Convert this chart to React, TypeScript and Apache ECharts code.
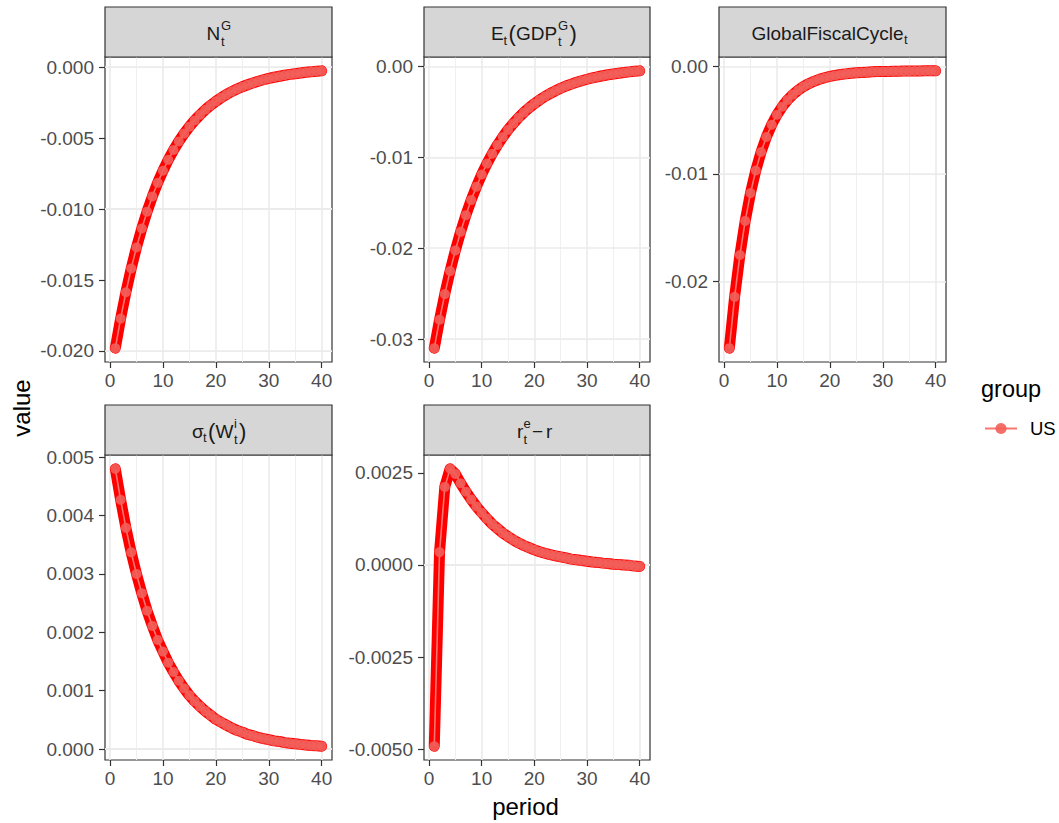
import { useEffect, useRef } from 'react';
import * as echarts from 'echarts';

// Impulse responses, periods 1..40
const periods = Array.from({ length: 40 }, (_, i) => i + 1);

const nG = [
  -0.0198, -0.01772, -0.01586, -0.01419, -0.0127, -0.01137, -0.01018, -0.00911, -0.00815, -0.0073,
  -0.00653, -0.00584, -0.00523, -0.00468, -0.00419, -0.00375, -0.00336, -0.003, -0.00269, -0.00241,
  -0.00215, -0.00193, -0.00172, -0.00154, -0.00138, -0.00124, -0.00111, -0.00099, -0.00089, -0.00079,
  -0.00071, -0.00064, -0.00057, -0.00051, -0.00046, -0.00041, -0.00036, -0.00033, -0.00029, -0.00026,
];

const gdpG = [
  -0.031, -0.02787, -0.02505, -0.02252, -0.02025, -0.0182, -0.01637, -0.01471, -0.01323, -0.01189,
  -0.01069, -0.00961, -0.00864, -0.00777, -0.00698, -0.00628, -0.00564, -0.00507, -0.00456, -0.0041,
  -0.00369, -0.00331, -0.00298, -0.00268, -0.00241, -0.00216, -0.00195, -0.00175, -0.00157, -0.00141,
  -0.00127, -0.00114, -0.00103, -0.00092, -0.00083, -0.00075, -0.00067, -0.0006, -0.00054, -0.00049,
];

const fiscalCycle = [
  -0.0262, -0.02143, -0.01754, -0.01437, -0.01178, -0.00968, -0.00796, -0.00656, -0.00542, -0.00449,
  -0.00374, -0.00312, -0.00262, -0.00221, -0.00187, -0.0016, -0.00138, -0.0012, -0.00105, -0.00093,
  -0.00083, -0.00075, -0.00069, -0.00063, -0.00059, -0.00056, -0.00053, -0.0005, -0.00048, -0.00047,
  -0.00046, -0.00045, -0.00044, -0.00043, -0.00043, -0.00042, -0.00042, -0.00041, -0.00041, -0.00041,
];

const sigmaW = [
  0.0048, 0.00427, 0.00379, 0.00337, 0.003, 0.00267, 0.00237, 0.00211, 0.00187, 0.00167,
  0.00148, 0.00132, 0.00117, 0.00104, 0.00092, 0.00082, 0.00073, 0.00065, 0.00058, 0.00051,
  0.00046, 0.00041, 0.00036, 0.00032, 0.00029, 0.00025, 0.00023, 0.0002, 0.00018, 0.00016,
  0.00014, 0.00013, 0.00011, 0.0001, 0.00009, 0.00008, 0.00007, 0.00006, 0.000055, 0.00005,
];

const rateGap = [
  -0.00492, 0.00035, 0.00212, 0.00261, 0.00247, 0.00222, 0.00199, 0.00178, 0.00159, 0.00142,
  0.00126, 0.00111, 0.00099, 0.00087, 0.00077, 0.00068, 0.0006, 0.00053, 0.00047, 0.00041,
  0.00036, 0.00032, 0.00028, 0.00025, 0.00022, 0.00019, 0.00016, 0.00014, 0.00012, 0.0001,
  0.00008, 0.00007, 0.00005, 0.00004, 0.00002, 0.00001, 0.0, -0.00001, -0.00003, -0.00004,
];

const panelValues = [nG, gdpG, fiscalCycle, sigmaW, rateGap];

// Axis breaks
const xBreaks = [0, 10, 20, 30, 40];
const yBreaks = [
  [-0.02, -0.015, -0.01, -0.005, 0],
  [-0.03, -0.02, -0.01, 0],
  [-0.02, -0.01, 0],
  [0, 0.001, 0.002, 0.003, 0.004, 0.005],
  [-0.005, -0.0025, 0, 0.0025],
];
const yDigits = [3, 2, 2, 3, 4];

const FONT = '"Liberation Sans", Arial, Helvetica, sans-serif';
const SCRIPT = 13;
const MAIN = 19;

// Facet layout (pixels)
const cols = [
  { left: 105, width: 227 },
  { left: 424, width: 226 },
  { left: 719, width: 227 },
];
const rows = [
  { stripTop: 7, top: 57, height: 305 },
  { stripTop: 405, top: 455, height: 305 },
];
const panelCell = [
  [0, 0],
  [0, 1],
  [0, 2],
  [1, 0],
  [1, 1],
];

// Strip titles built from pieces: text, x offset from strip centre, y offset, font size
type Piece = { t: string; dx: number; dy?: number; size?: number };
const stripLabels: Piece[][] = [
  [
    { t: 'N', dx: -12 },
    { t: 'G', dx: 2.5, dy: -8, size: SCRIPT },
    { t: 't', dx: 2.5, dy: 8, size: SCRIPT },
  ],
  [
    { t: 'E', dx: -46 },
    { t: 't', dx: -33.5, dy: 7, size: SCRIPT },
    { t: '(', dx: -28.5, size: 22 },
    { t: 'GDP', dx: -21 },
    { t: 'G', dx: 21, dy: -8, size: SCRIPT },
    { t: 't', dx: 21, dy: 8, size: SCRIPT },
    { t: ')', dx: 32.5, size: 22 },
  ],
  [
    { t: 'GlobalFiscalCycle', dx: -81 },
    { t: 't', dx: 71.5, dy: 6, size: SCRIPT },
  ],
  [
    { t: 'σ', dx: -26.5 },
    { t: 't', dx: -15.5, dy: 6, size: SCRIPT },
    { t: '(', dx: -10.5, size: 22 },
    { t: 'W', dx: -3 },
    { t: 'i', dx: 15.5, dy: -8, size: SCRIPT },
    { t: 't', dx: 15.5, dy: 8, size: SCRIPT },
    { t: ')', dx: 20.5, size: 22 },
  ],
  [
    { t: 'r', dx: -20 },
    { t: 'e', dx: -13.5, dy: -8, size: SCRIPT },
    { t: 't', dx: -13.5, dy: 8, size: SCRIPT },
    { t: '−', dx: -5 },
    { t: 'r', dx: 9 },
  ],
];

function expand(lo: number, hi: number): [number, number] {
  const pad = (hi - lo) * 0.05;
  return [lo - pad, hi + pad];
}

function minorBreaks(major: number[], lo: number, hi: number): number[] {
  const step = major[1] - major[0];
  const ext = [major[0] - step, ...major, major[major.length - 1] + step];
  const out: number[] = [];
  for (let i = 0; i < ext.length - 1; i++) {
    const m = (ext[i] + ext[i + 1]) / 2;
    if (m >= lo && m <= hi) out.push(m);
  }
  return out;
}

const majorLine = { color: '#EBEBEB', width: 1.6, type: 'solid' };
const minorLine = { color: '#F0F0F0', width: 1, type: 'solid' };

function buildOption() {
  const grid: any[] = [];
  const xAxis: any[] = [];
  const yAxis: any[] = [];
  const series: any[] = [];
  const graphic: any[] = [];

  panelValues.forEach((vals, i) => {
    const [r, c] = panelCell[i];
    const row = rows[r];
    const col = cols[c];
    const [xMin, xMax] = expand(Math.min(...periods), Math.max(...periods));
    const [yMin, yMax] = expand(Math.min(...vals), Math.max(...vals));
    const digits = yDigits[i];

    grid.push({
      left: col.left,
      top: row.top,
      width: col.width,
      height: row.height,
      show: true,
      borderColor: '#333333',
      borderWidth: 1.2,
      backgroundColor: 'transparent',
      containLabel: false,
    });

    xAxis.push({
      type: 'value',
      gridIndex: i,
      min: xMin,
      max: xMax,
      position: 'bottom',
      axisLine: { show: false, onZero: false },
      axisTick: { show: true, customValues: xBreaks, length: 6, lineStyle: { color: '#333333', width: 1.2 } },
      axisLabel: {
        customValues: xBreaks,
        margin: 9,
        color: '#4D4D4D',
        fontSize: MAIN,
        fontFamily: FONT,
      },
      splitLine: { show: false },
    });

    yAxis.push({
      type: 'value',
      gridIndex: i,
      min: yMin,
      max: yMax,
      position: 'left',
      axisLine: { show: false, onZero: false },
      axisTick: { show: true, customValues: yBreaks[i], length: 6, lineStyle: { color: '#333333', width: 1.2 } },
      axisLabel: {
        customValues: yBreaks[i],
        margin: 11,
        color: '#4D4D4D',
        fontSize: MAIN,
        fontFamily: FONT,
        formatter: (v: number) => (Math.abs(v) < 1e-12 ? 0 : v).toFixed(digits),
      },
      splitLine: { show: false },
    });

    const xMinor = minorBreaks(xBreaks, xMin, xMax);
    const yMinor = minorBreaks(yBreaks[i], yMin, yMax);

    // Panel grid lines
    series.push({
      type: 'line',
      name: 'grid',
      xAxisIndex: i,
      yAxisIndex: i,
      data: [],
      silent: true,
      z: 1,
      markLine: {
        silent: true,
        z: 1,
        symbol: ['none', 'none'],
        label: { show: false },
        emphasis: { disabled: true },
        animation: false,
        data: [
          ...xMinor.map((v) => ({ xAxis: v, lineStyle: minorLine })),
          ...yMinor.map((v) => ({ yAxis: v, lineStyle: minorLine })),
          ...xBreaks.map((v) => ({ xAxis: v, lineStyle: majorLine })),
          ...yBreaks[i].map((v) => ({ yAxis: v, lineStyle: majorLine })),
        ],
      },
    });

    const pts = periods.map((p, k) => [p, vals[k]]);

    // Thick response path
    series.push({
      type: 'line',
      name: 'US path',
      xAxisIndex: i,
      yAxisIndex: i,
      data: pts,
      symbol: 'none',
      silent: true,
      z: 3,
      lineStyle: { color: '#FF0000', width: 11, cap: 'round', join: 'round' },
      itemStyle: { color: '#FF0000' },
    });

    // Group line and points
    series.push({
      type: 'line',
      name: 'US',
      xAxisIndex: i,
      yAxisIndex: i,
      data: pts,
      symbol: 'circle',
      symbolSize: 10,
      showSymbol: true,
      showAllSymbol: true,
      silent: true,
      z: 4,
      lineStyle: { color: '#F8766D', width: 1.6 },
      itemStyle: { color: '#F25F5A', opacity: 0.9, borderWidth: 0 },
    });

    // Strip
    const stripH = row.top - row.stripTop;
    graphic.push({
      type: 'rect',
      shape: { x: col.left, y: row.stripTop, width: col.width, height: stripH },
      style: { fill: '#D6D6D6', stroke: '#333333', lineWidth: 1.2 },
      z: 10,
    });
    const cx = col.left + col.width / 2;
    const cy = row.stripTop + stripH / 2 + 1;
    stripLabels[i].forEach((p) => {
      graphic.push({
        type: 'text',
        x: cx + p.dx,
        y: cy + (p.dy || 0),
        z: 11,
        style: {
          text: p.t,
          fill: '#1A1A1A',
          fontSize: p.size || MAIN,
          fontFamily: FONT,
          align: 'left',
          verticalAlign: 'middle',
        },
      });
    });
  });

  // Axis titles
  graphic.push({
    type: 'text',
    x: 21,
    y: 408,
    rotation: Math.PI / 2,
    style: { text: 'value', fill: '#000000', fontSize: 24, fontFamily: FONT, align: 'center', verticalAlign: 'middle' },
  });
  graphic.push({
    type: 'text',
    x: 525.5,
    y: 806,
    style: { text: 'period', fill: '#000000', fontSize: 24, fontFamily: FONT, align: 'center', verticalAlign: 'middle' },
  });
  // Legend title
  graphic.push({
    type: 'text',
    x: 981,
    y: 389,
    style: { text: 'group', fill: '#000000', fontSize: 23.5, fontFamily: FONT, align: 'left', verticalAlign: 'middle' },
  });

  return {
    animation: false,
    backgroundColor: '#FFFFFF',
    grid,
    xAxis,
    yAxis,
    series,
    graphic,
    legend: {
      data: ['US'],
      left: 984,
      top: 419,
      padding: 0,
      itemWidth: 32,
      itemHeight: 14,
      selectedMode: false,
      textStyle: { fontSize: 18.5, color: '#000000', fontFamily: FONT, padding: [0, 0, 0, 8] },
    },
  };
}

export default function App() {
  const ref = useRef<HTMLDivElement>(null);

  useEffect(() => {
    if (!ref.current) return;
    const chart = echarts.init(ref.current, undefined, { renderer: 'svg' });
    chart.setOption(buildOption() as any);
    return () => chart.dispose();
  }, []);

  return (
    <div
      ref={ref}
      style={{ position: 'fixed', left: 0, top: 0, width: 1059, height: 823, background: '#FFFFFF' }}
    />
  );
}
